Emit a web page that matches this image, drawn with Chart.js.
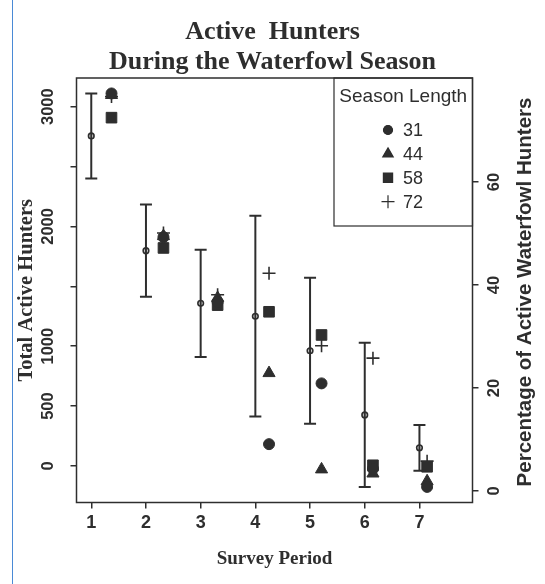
<!DOCTYPE html>
<html>
<head>
<meta charset="utf-8">
<script src="https://cdn.jsdelivr.net/npm/chart.js@4.4.0/dist/chart.umd.min.js"></script>
<style>
  html, body { margin: 0; padding: 0; background: #fff; }
  #wrap { position: relative; width: 545px; height: 584px; }
  #wrap canvas { position: absolute; left: 0; top: 0; }
  #edge { position: absolute; left: 12px; top: 0; width: 1px; height: 584px; background: #4a8ad6; }
</style>
</head>
<body>
<div id="wrap">
  <canvas id="chart" width="545" height="584"></canvas>
  <div id="edge"></div>
</div>
<script>
// Survey periods and the mean total of active hunters (+/- spread) per period
const periods = [1, 2, 3, 4, 5, 6, 7];
const meanHunters = [2755, 1797, 1358, 1250, 962, 426, 152];
const spreadHunters = [355, 385, 448, 838, 610, 602, 191];

// Season-length groups, plotted just right of each period
const symbolX = [1.37, 2.32, 3.31, 4.25, 5.21, 6.15, 7.14];
const seasonLengths = ['31', '44', '58', '72'];
const pct31 = [77.2, 49.3, 36.7, 9.1, 20.9, 4.3, 0.8];
const pct44 = [76.9, 49.5, 37.5, 22.9, 4.2, 3.4, 1.9];
const pct58 = [72.5, 47.2, 36.1, 34.8, 30.3, 5.0, 4.7];
const pct72 = [76.6, 50.1, 38.1, 42.3, 28.2, 25.8, 5.8];

// Tick values
const xTicks = [1, 2, 3, 4, 5, 6, 7];
const leftTicks = [0, 500, 1000, 1500, 2000, 2500, 3000];
const leftLabelled = [0, 500, 1000, 2000, 3000];
const rightTicks = [0, 20, 40, 60];

const INK = '#2e2e2e';
const SANS = '"Liberation Sans", Arial, sans-serif';
const SERIF = '"Liberation Serif", "Times New Roman", serif';

// whisker line: low -> high for each period, broken by a null gap
const whiskerData = [];
periods.forEach((p, i) => {
  whiskerData.push({ x: p, y: meanHunters[i] - spreadHunters[i] });
  whiskerData.push({ x: p, y: meanHunters[i] + spreadHunters[i] });
  whiskerData.push({ x: p, y: null });
});
const meanData = periods.map((p, i) => ({ x: p, y: meanHunters[i] }));
const seriesPts = arr => symbolX.map((x, i) => ({ x: x, y: arr[i] }));

const seasonStyles = [
  { data: pct31, pointStyle: 'circle', radius: 5.5, legendRadius: 4.5 },
  { data: pct44, pointStyle: 'triangle', radius: 7, legendRadius: 6 },
  { data: pct58, pointStyle: 'rect', radius: 7.5, legendRadius: 6.5 },
  { data: pct72, pointStyle: 'cross', radius: 6.5, legendRadius: 6.5 }
];

const seasonDatasets = seasonStyles.map((s, k) => ({
  type: 'scatter',
  label: seasonLengths[k],
  data: seriesPts(s.data),
  yAxisID: 'y1',
  pointStyle: s.pointStyle,
  pointRadius: s.radius,
  legendRadius: s.legendRadius,
  backgroundColor: INK,
  borderColor: INK,
  borderWidth: s.pointStyle === 'cross' ? 1.6 : 1,
  showLine: false
}));

// frame, inset legend and right-hand axis title
const decorations = {
  id: 'decorations',
  afterDraw(chart) {
    const { ctx, chartArea: a } = chart;
    ctx.save();
    ctx.strokeStyle = INK;
    ctx.lineWidth = 1.5;
    ctx.strokeRect(a.left, a.top, a.right - a.left, a.bottom - a.top);

    // legend box
    const lx = 334, ly = a.top, lw = a.right - 334, lh = 226 - a.top;
    ctx.lineWidth = 1.2;
    ctx.strokeRect(lx, ly, lw, lh);
    ctx.fillStyle = INK;
    ctx.textBaseline = 'middle';
    ctx.textAlign = 'center';
    ctx.font = '19px ' + SANS;
    ctx.fillText('Season Length', lx + lw / 2, 97);
    ctx.font = '18px ' + SANS;
    ctx.textAlign = 'left';
    const groups = chart.data.datasets.filter(d => d.yAxisID === 'y1');
    groups.forEach((d, k) => {
      const yy = 130 + k * 23.9;
      Chart.helpers.drawPoint(ctx, {
        pointStyle: d.pointStyle,
        radius: d.legendRadius,
        rotation: 0,
        borderWidth: d.borderWidth
      }, 388, yy);
      ctx.fillStyle = INK;
      ctx.strokeStyle = INK;
      ctx.fill();
      ctx.fillText(d.label, 403, yy + 1);
    });

    // right axis title, reading bottom to top
    ctx.save();
    ctx.translate(525, 292);
    ctx.rotate(-Math.PI / 2);
    ctx.textAlign = 'center';
    ctx.textBaseline = 'middle';
    ctx.font = 'bold 20.5px ' + SANS;
    ctx.fillStyle = INK;
    ctx.fillText('Percentage of Active Waterfowl Hunters', 0, 0);
    ctx.restore();
    ctx.restore();
  }
};

const tickGrid = {
  drawOnChartArea: false,
  drawTicks: true,
  tickLength: 6,
  color: INK,
  lineWidth: 1.5
};

new Chart(document.getElementById('chart'), {
  type: 'scatter',
  data: {
    datasets: [
      {
        type: 'line',
        label: 'range',
        data: whiskerData,
        yAxisID: 'y',
        showLine: true,
        spanGaps: false,
        borderColor: INK,
        borderWidth: 2,
        pointStyle: 'line',
        pointRadius: 6,
        pointBorderWidth: 2,
        pointBorderColor: INK,
        pointBackgroundColor: INK,
        fill: false,
        tension: 0
      },
      {
        type: 'scatter',
        label: 'mean',
        data: meanData,
        yAxisID: 'y',
        pointStyle: 'circle',
        pointRadius: 2.8,
        pointBorderWidth: 1.6,
        pointBorderColor: INK,
        pointBackgroundColor: '#dddddd'
      },
      ...seasonDatasets
    ]
  },
  options: {
    responsive: false,
    animation: false,
    devicePixelRatio: 1,
    layout: { padding: 0 },
    plugins: {
      legend: { display: false },
      tooltip: { enabled: false },
      title: {
        display: true,
        text: ['Active  Hunters', 'During the Waterfowl Season'],
        color: INK,
        font: { family: SERIF, size: 26, weight: 'bold', lineHeight: 1.15 },
        padding: { top: 17, bottom: 1.2 }
      }
    },
    scales: {
      x: {
        type: 'linear',
        position: 'bottom',
        min: 0.73,
        max: 7.97,
        afterBuildTicks: s => { s.ticks = xTicks.map(v => ({ value: v })); },
        afterFit: s => { s.height = 81.5; },
        grid: tickGrid,
        border: { display: false },
        ticks: {
          color: INK,
          padding: 4,
          font: { family: SANS, size: 18, weight: 'bold' },
          callback: v => String(v)
        },
        title: {
          display: true,
          text: 'Survey Period',
          color: INK,
          font: { family: SERIF, size: 19, weight: 'bold' },
          padding: { top: 0, bottom: 14 }
        }
      },
      y: {
        type: 'linear',
        position: 'left',
        min: -305,
        max: 3239,
        afterBuildTicks: s => { s.ticks = leftTicks.map(v => ({ value: v })); },
        afterFit: s => { s.width = 76.5; },
        grid: tickGrid,
        border: { display: false },
        ticks: {
          color: INK,
          padding: 4,
          minRotation: 90,
          maxRotation: 90,
          crossAlign: 'center',
          font: { family: SANS, size: 16.5, weight: 'bold' },
          callback: v => (leftLabelled.includes(v) ? String(v) : '')
        },
        title: {
          display: true,
          text: 'Total Active Hunters',
          color: INK,
          font: { family: SERIF, size: 20.5, weight: 'bold' },
          padding: { top: 14, bottom: 0 }
        }
      },
      y1: {
        type: 'linear',
        position: 'right',
        min: -2.23,
        max: 80.2,
        afterBuildTicks: s => { s.ticks = rightTicks.map(v => ({ value: v })); },
        afterFit: s => { s.width = 72.5; },
        grid: tickGrid,
        border: { display: false },
        ticks: {
          color: INK,
          padding: 7,
          minRotation: 90,
          maxRotation: 90,
          crossAlign: 'center',
          font: { family: SANS, size: 16.5, weight: 'bold' },
          callback: v => String(v)
        },
        title: { display: false }
      }
    }
  },
  plugins: [decorations]
});
</script>
</body>
</html>
